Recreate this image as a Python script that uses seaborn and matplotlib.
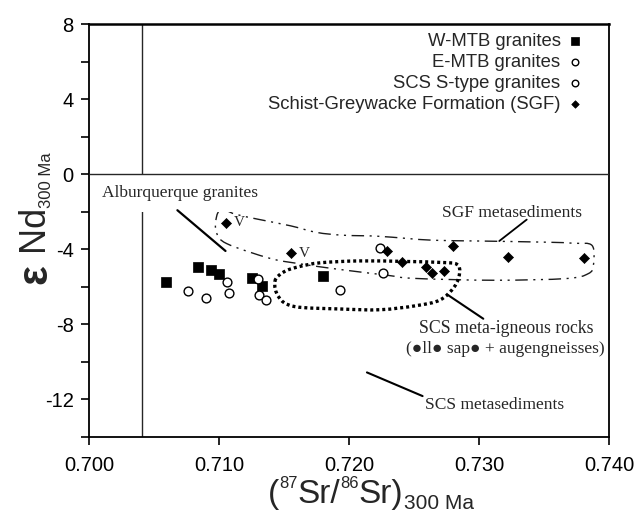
import numpy as np
import pandas as pd
import matplotlib
matplotlib.use("Agg")
import matplotlib.pyplot as plt
import seaborn as sns
from matplotlib.path import Path
from matplotlib.patches import PathPatch

# ---------------- data ----------------
# W-MTB granites
wmtb_sr = [0.7059, 0.7084, 0.7094, 0.7100, 0.7125, 0.7133, 0.7180]
wmtb_nd = [-5.75, -4.95, -5.10, -5.30, -5.55, -5.95, -5.45]
# E-MTB granites
emtb_sr = [0.7076, 0.7090, 0.7106, 0.7108]
emtb_nd = [-6.20, -6.60, -5.75, -6.35]
# SCS S-type granites
scs_sr = [0.7130, 0.7131, 0.7136, 0.7193, 0.7224, 0.7226]
scs_nd = [-5.60, -6.45, -6.70, -6.15, -3.95, -5.25]
# Schist-Greywacke Formation
sgf_sr = [0.7105, 0.7155, 0.7229, 0.7241, 0.7259, 0.7264, 0.7273, 0.7280, 0.7322, 0.7381]
sgf_nd = [-2.60, -4.20, -4.10, -4.70, -4.95, -5.25, -5.15, -3.80, -4.40, -4.45]

legend_labels = ["W-MTB granites", "E-MTB granites", "SCS S-type granites",
                 "Schist-Greywacke Formation (SGF)"]

# outline vertices of the two compositional fields
sgf_field_sr = [0.7102, 0.7112, 0.7130, 0.7155, 0.7175, 0.7195, 0.7221, 0.7244, 0.7265,
                0.7300, 0.7350, 0.7373, 0.7387, 0.7388, 0.7384, 0.7367, 0.7311, 0.7250,
                0.7229, 0.7190, 0.7160, 0.7139, 0.7106, 0.7098, 0.7098]
sgf_field_nd = [-1.85, -2.12, -2.40, -2.75, -3.10, -3.25, -3.30, -3.42, -3.52,
                -3.56, -3.62, -3.68, -3.80, -4.85, -5.30, -5.56, -5.65, -5.55,
                -5.38, -5.05, -4.75, -4.48, -3.70, -3.10, -2.30]
scs_field_sr = [0.7143, 0.7150, 0.7162, 0.7178, 0.7208, 0.7244, 0.7270, 0.7283, 0.7285,
                0.7281, 0.7270, 0.7252, 0.7224, 0.7193, 0.7158, 0.7146]
scs_field_nd = [-5.70, -5.20, -4.92, -4.72, -4.62, -4.65, -4.70, -4.80, -5.30,
                -6.00, -6.70, -7.00, -7.22, -7.18, -7.05, -6.55]

x_ticks = [0.700, 0.710, 0.720, 0.730, 0.740]
x_tick_labels = ["0.700", "0.710", "0.720", "0.730", "0.740"]
y_ticks = [-14, -12, -10, -8, -6, -4, -2, 0, 2, 4, 6, 8]
y_tick_labels = ["", "-12", "", "-8", "", "-4", "", "0", "", "4", "", "8"]

df = pd.concat([
    pd.DataFrame({"sr": wmtb_sr, "nd": wmtb_nd, "group": legend_labels[0]}),
    pd.DataFrame({"sr": emtb_sr, "nd": emtb_nd, "group": legend_labels[1]}),
    pd.DataFrame({"sr": scs_sr, "nd": scs_nd, "group": legend_labels[2]}),
    pd.DataFrame({"sr": sgf_sr, "nd": sgf_nd, "group": legend_labels[3]}),
], ignore_index=True)

# ---------------- style ----------------
sns.set_style("white")
plt.rcParams["font.family"] = ["Liberation Sans", "DejaVu Sans"]

W, H = 634, 527
fig = plt.figure(figsize=(W / 100, H / 100), dpi=100)
ax = fig.add_axes([89 / W, 1 - 437 / H, 520 / W, 413 / H])

styles = {
    legend_labels[0]: dict(marker="s", s=60, color="black", edgecolor="black", linewidth=0.5),
    legend_labels[1]: dict(marker="o", s=40, color="white", edgecolor="black", linewidth=1.0),
    legend_labels[2]: dict(marker="o", s=40, color="white", edgecolor="black", linewidth=1.0),
    legend_labels[3]: dict(marker="D", s=26, color="black", edgecolor="black", linewidth=0.5),
}
for lab in legend_labels:
    sub = df[df["group"] == lab]
    sns.scatterplot(data=sub, x="sr", y="nd", ax=ax, label=lab, zorder=5, **styles[lab])


def smooth_closed(xs, ys):
    """Closed Catmull-Rom curve through the given vertices as a Bezier path."""
    p = np.column_stack([xs, ys])
    n = len(p)
    verts = [p[0]]
    codes = [Path.MOVETO]
    for i in range(n):
        p0, p1, p2, p3 = p[i - 1], p[i], p[(i + 1) % n], p[(i + 2) % n]
        c1 = p1 + (p2 - p0) / 6.0
        c2 = p2 - (p3 - p1) / 6.0
        verts += [c1, c2, p2]
        codes += [Path.CURVE4] * 3
    return Path(verts, codes)


ax.add_patch(PathPatch(smooth_closed(sgf_field_sr, sgf_field_nd), fill=False,
                       edgecolor="0.1", linewidth=1.0,
                       linestyle=(0, (9, 4, 1.5, 4, 1.5, 4)), zorder=3))
ax.add_patch(PathPatch(smooth_closed(scs_field_sr, scs_field_nd), fill=False,
                       edgecolor="black", linewidth=2.4,
                       linestyle=(0, (0.9, 0.9)), zorder=3))

# reference lines
ax.axvline(0.7041, color="0.15", linewidth=1.0, zorder=1)
ax.axhline(0.0, color="0.15", linewidth=1.0, zorder=6)

# annotations
serif = ["Liberation Serif", "DejaVu Serif"]
ax.text(0.7070, -1.01, "Alburquerque granites", family=serif, fontsize=12.5,
        ha="center", va="center", zorder=4,
        bbox=dict(facecolor="white", edgecolor="none", pad=8))
ax.plot([0.7068, 0.7105], [-1.92, -4.09], color="black", linewidth=1.6, zorder=4)

ax.text(0.7325, -2.08, "SGF metasediments", family=serif, fontsize=12.5,
        ha="center", va="center")
ax.plot([0.73367, 0.73156], [-2.42, -3.56], color="black", linewidth=1.3)

ax.text(0.7321, -8.21, "SCS meta-igneous rocks", family=serif, fontsize=12.8,
        ha="center", va="center")
ax.text(0.7320, -9.33, "(●ll● sap● + augengneisses)", family=serif, fontsize=12.5,
        ha="center", va="center")
ax.plot([0.73033, 0.72764], [-7.70, -6.45], color="black", linewidth=1.5)

ax.text(0.7312, -12.32, "SCS metasediments", family=serif, fontsize=12.5,
        ha="center", va="center")
ax.plot([0.72138, 0.72566], [-10.56, -11.82], color="black", linewidth=1.5)

for xv, yv in [(0.7105, -2.6), (0.7155, -4.2)]:
    ax.annotate("V", (xv, yv), xytext=(6, 0), textcoords="offset points",
                family=serif, fontsize=11, ha="left", va="center")

# axes
ax.set_xlim(0.700, 0.740)
ax.set_ylim(-14, 8)
ax.set_xticks(x_ticks)
ax.set_xticklabels(x_tick_labels)
ax.set_yticks(y_ticks)
ax.set_yticklabels(y_tick_labels)
ax.tick_params(axis="both", direction="out", length=6, width=1.2, labelsize=14.5,
               color="black", labelcolor="black", left=True, bottom=True)
ax.tick_params(axis="x", pad=8)
ax.tick_params(axis="y", pad=5)
for sp in ax.spines.values():
    sp.set_color("black")
    sp.set_linewidth(1.3)
ax.spines["top"].set_linewidth(1.8)
ax.set_xlabel("")
ax.set_ylabel("")

leg = ax.legend(loc="upper right", bbox_to_anchor=(0.953, 0.978), frameon=False,
                markerfirst=False, fontsize=13.3, handlelength=1.0, handletextpad=0.3,
                labelspacing=0.22, borderaxespad=0, borderpad=0, markerscale=0.75)

# axis titles built from pieces with their own sizes and offsets
fig.canvas.draw()
renderer = fig.canvas.get_renderer()


def chain_horizontal(pieces, x_px, base_px):
    x = x_px
    for s, size, dy in pieces:
        t = fig.text(x / W, 1 - (base_px + dy) / H, s, fontsize=size,
                     ha="left", va="baseline")
        x += t.get_window_extent(renderer).width


def chain_vertical(pieces, base_x_px, y_px):
    y = y_px
    for s, size, dx, weight in pieces:
        t = fig.text((base_x_px + dx) / W, 1 - y / H, s, fontsize=size, weight=weight,
                     rotation=90, rotation_mode="anchor", ha="left", va="baseline")
        y -= t.get_window_extent(renderer).height


chain_horizontal([("(", 24, 0), ("87", 12, -15), ("Sr/", 24, 0), ("86", 12, -15),
                  ("Sr)", 24, 0), ("300 Ma", 15, 6)], 268, 503)
chain_vertical([("ε", 30, 0, "bold"), (" Nd", 26, 0, "normal"),
                ("300 Ma", 12, 5, "normal")], 46, 284)

fig.savefig("out.png", dpi=100)
